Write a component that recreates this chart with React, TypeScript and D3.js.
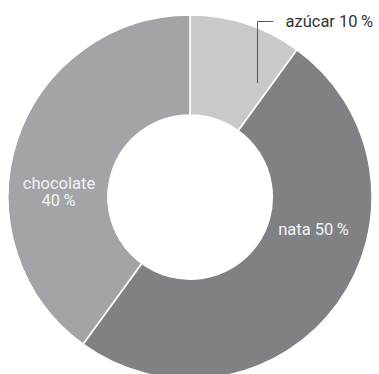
import React from "react";
import * as d3 from "d3";

const categories = ["azúcar", "nata", "chocolate"];
const values = [10, 50, 40];
const colors = ["#c8c9cb", "#808185", "#a3a4a8"];

const W = 379;
const H = 374;
const cx = 190;
const cy = 197;
const rOuter = 182;
const rInner = 82;

export default function App() {
  const pie = d3.pie<number>().sort(null).value((d) => d);
  const arcs = pie(values);
  const arc = d3.arc<d3.PieArcDatum<number>>().innerRadius(rInner).outerRadius(rOuter);
  const pct = (v: number) => `${v}\u2009%`;
  const font = "Roboto, 'Noto Sans', sans-serif";
  const fs = 16.5;

  const leadX = cx + 67.5;
  return (
    <svg
      width={W}
      height={H}
      style={{ position: "absolute", left: 0, top: 0 }}
      viewBox={`0 0 ${W} ${H}`}
    >
      <g transform={`translate(${cx},${cy})`}>
        {arcs.map((a, i) => (
          <path key={i} d={arc(a) || ""} fill={colors[i]} stroke="#fff" strokeWidth={1.6} />
        ))}
      </g>
      <polyline
        points={`${leadX},83 ${leadX},21.5 273,21.5`}
        fill="none"
        stroke="#555"
        strokeWidth={1}
      />
      <text x={285.5} y={27} fontFamily={font} fontSize={fs} fill="#333">
        {`${categories[0]} ${pct(values[0])}`}
      </text>
      <text x={cx + 123.5} y={235} fontFamily={font} fontSize={fs} fill="#f2f2f2" textAnchor="middle">
        {`${categories[1]} ${pct(values[1])}`}
      </text>
      <text x={cx - 131} y={189} fontFamily={font} fontSize={fs} fill="#f2f2f2" textAnchor="middle">
        <tspan x={cx - 131}>{categories[2]}</tspan>
        <tspan x={cx - 131.5} dy={17}>{pct(values[2])}</tspan>
      </text>
    </svg>
  );
}
